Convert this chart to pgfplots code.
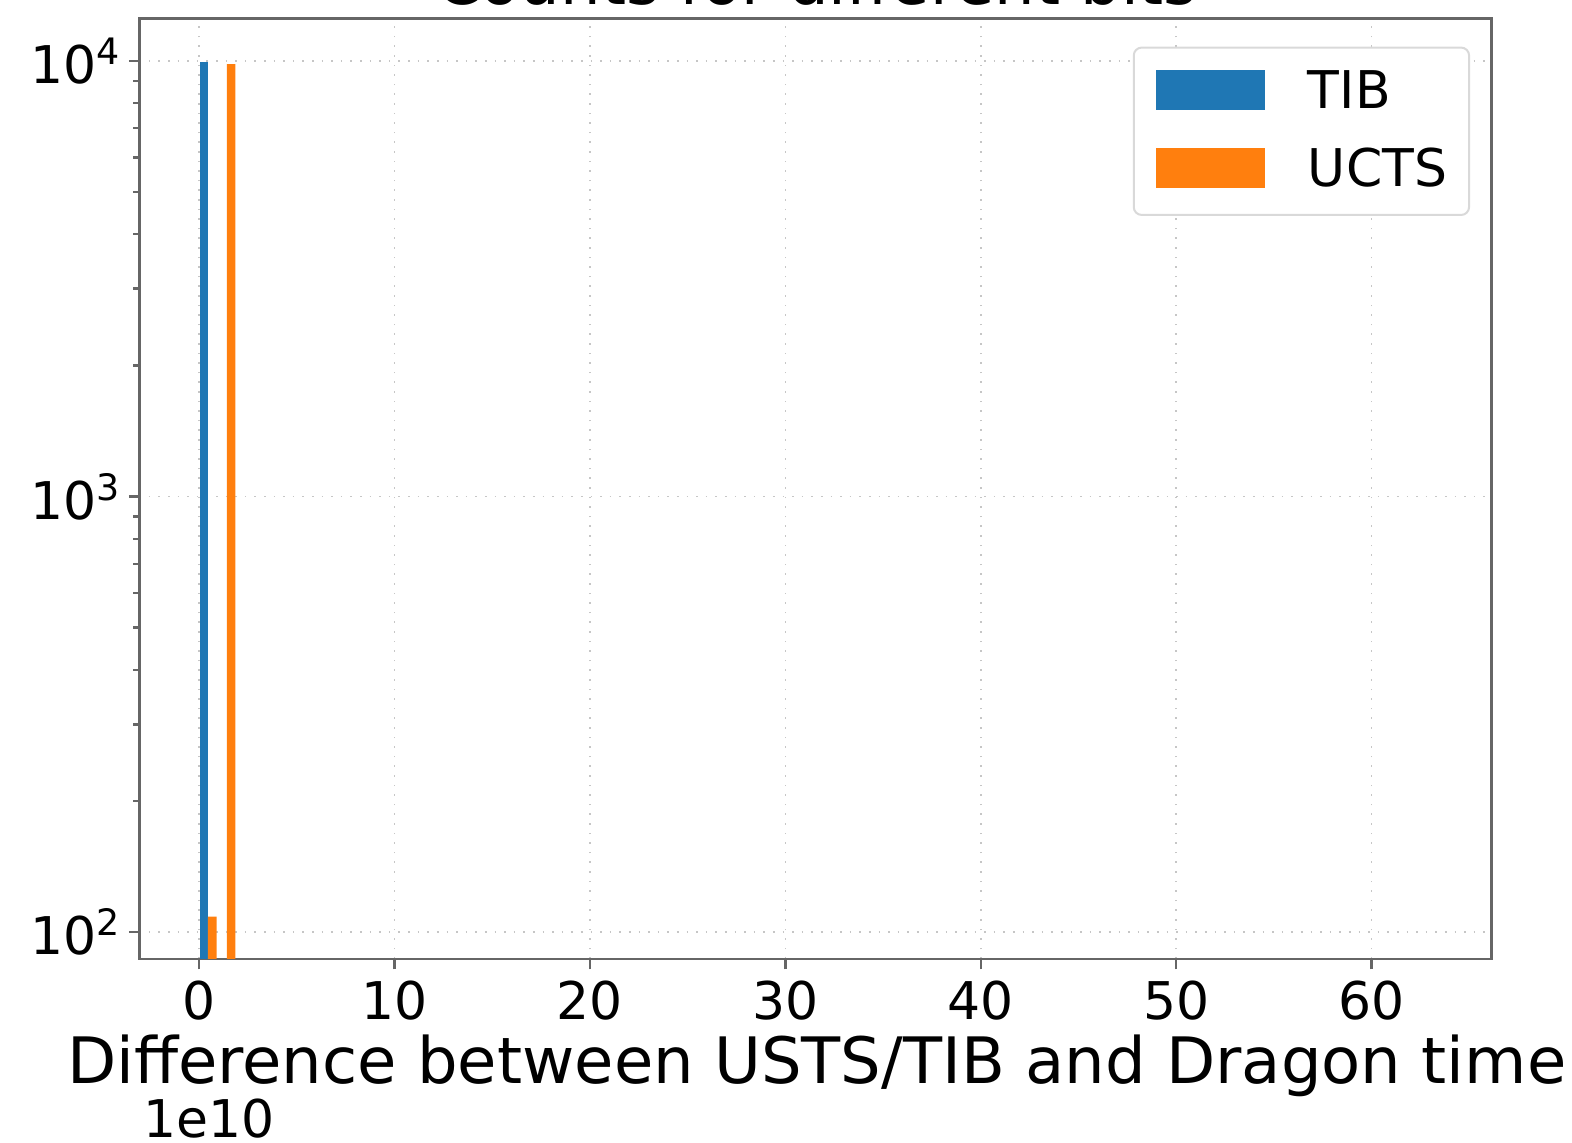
\documentclass[border=0pt]{standalone}
\usepackage{pgfplots}
\pgfplotsset{compat=1.18}
\usepackage{fontspec}
\setmainfont{DejaVu Sans}
\definecolor{tabblue}{HTML}{1F77B4}
\definecolor{taborange}{HTML}{FF7F0E}
\newcommand{\fs}{\fontsize{13}{15.6}\selectfont}
\newcommand{\fl}{\fontsize{16}{19.2}\selectfont}
\newcommand{\sci}[1]{10\raisebox{4.75pt}{\fontsize{9.1}{10}\selectfont #1}}
\begin{document}
\begin{tikzpicture}
\begin{axis}[
  at={(0,0)}, anchor=south west,
  scale only axis, width=338.1pt, height=235.1pt,
  xmin=-3.05, xmax=66.14,
  ymode=log, ymin=86.84, ymax=12498,
  xtick={0,10,20,30,40,50,60},
  ytick={100,1000,10000},
  yticklabels={\sci{2},\sci{3},\sci{4}},
  /pgf/number format/assume math mode=true,
  tick label style={font=\fs},
  xticklabel style={anchor=north, inner sep=0pt, yshift=-2.75pt},
  yticklabel style={anchor=east, inner sep=0pt, xshift=-2pt},
  tick align=outside, major tick length=2.6pt, minor tick length=1.5pt,
  tick style={black!60, line width=0.6pt},
  axis line style={black!60, line width=0.65pt},
  xtick pos=bottom, ytick pos=left,
  grid=major, major grid style={dotted, gray!45, line width=0.4pt},
  legend cell align=left,
  legend style={at={(1,1)}, anchor=north east, xshift=-5.4pt, yshift=-7pt,
    draw=black!15, line width=0.5pt, rounded corners=2pt, fill=white,
    font=\fs, inner xsep=5.5pt, inner ysep=5.55pt, column sep=10.85pt, row sep=8.25pt,
    nodes={inner sep=0pt, anchor=base west}},
]
\addplot[ybar, bar width=0.425, bar shift=0pt, fill=tabblue, draw=none, forget plot]
  coordinates {(0.2625,9930)};
\addplot[ybar, bar width=0.44, bar shift=0pt, fill=taborange, draw=none, forget plot]
  coordinates {(0.68,108.6) (1.65,9826)};
\addlegendimage{legend image code/.code={\fill[tabblue, sharp corners] (0pt,0pt) rectangle (26.7pt,9.5pt);}}
\addlegendentry{TIB}
\addlegendimage{legend image code/.code={\fill[taborange, sharp corners] (0pt,0pt) rectangle (26.7pt,9.5pt);}}
\addlegendentry{UCTS\rule[-3.05pt]{0pt}{3.05pt}}
\end{axis}
\node[font=\fl, anchor=base] at (169.35pt,238.6pt) {Counts for different bits};
\node[font=\fl, anchor=base] at (169.35pt,-31.1pt) {Difference between USTS/TIB and Dragon time};
\node[font=\fs, anchor=base west, inner sep=0pt] at (0.93pt,-44.75pt) {1e10};
\pgfresetboundingbox
\useasboundingbox (-34.825pt,-46pt) rectangle (358.175pt,239.75pt);
\end{tikzpicture}
\end{document}
